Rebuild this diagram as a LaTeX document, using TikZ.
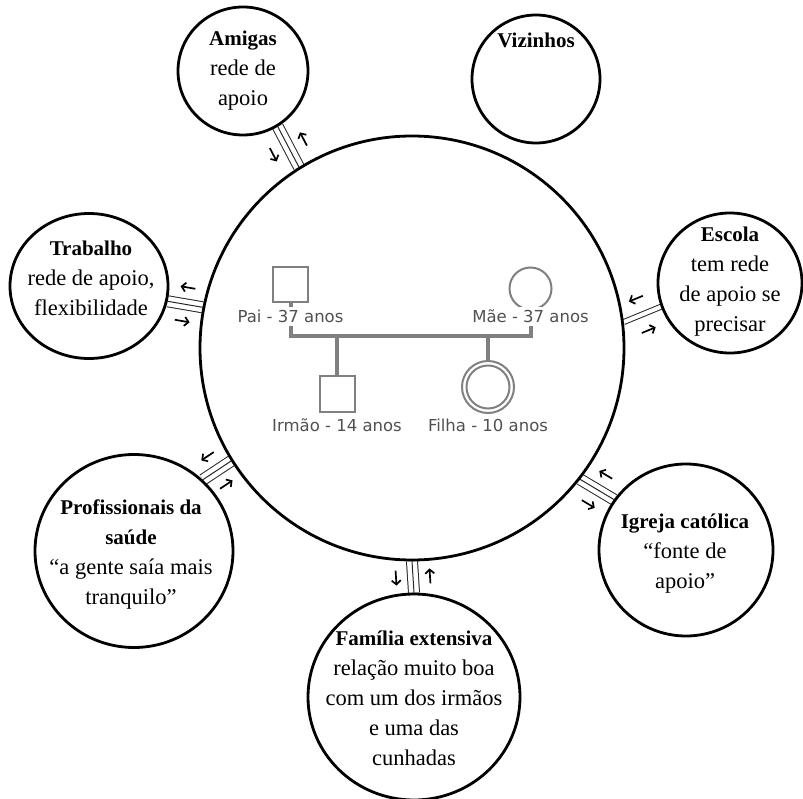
\documentclass[tikz,border=0pt]{standalone}
\usepackage{fontspec}
\setmainfont{Liberation Serif}
\newfontfamily\genofont{DejaVu Sans}
\usetikzlibrary{shapes.geometric, arrows.meta, calc, backgrounds}

\definecolor{linkgray}{RGB}{40,40,40}
\definecolor{genogray}{RGB}{128,128,128}
\definecolor{genotext}{RGB}{80,80,80}

\newcommand{\titulo}[1]{{\fontsize{21}{30}\selectfont\bfseries #1}}

\tikzset{
  ecocircle/.style 2 args={ellipse, draw=black, line width=2.8pt, inner sep=0pt,
    minimum width=#1, minimum height=#2},
  ecotext/.style={align=center, font=\fontsize{22.5}{30}\selectfont, text=black, inner sep=0pt},
  bigcircle/.style={circle, draw=black, line width=2.8pt, inner sep=0pt, minimum size=424pt},
  tripleline/.style={draw=linkgray, line width=1pt, double=white, double distance=10pt},
  doubleline/.style={draw=linkgray, line width=1pt, double=white, double distance=4pt},
  midline/.style={draw=linkgray, line width=1pt},
  flowarrow/.style={draw=black, line width=1.7pt, -{Straight Barb[length=4pt, width=9pt]}},
  genosq/.style={rectangle, draw=genogray, line width=2pt, minimum size=35pt, inner sep=0pt},
  genocirc/.style={circle, draw=genogray, line width=2pt, minimum size=42pt, inner sep=0pt},
  genoline/.style={draw=genogray, line width=4pt},
  genolabel/.style={font=\genofont\fontsize{16.5}{20}\selectfont, text=genotext, fill=white,
    inner xsep=1pt, inner ysep=3pt, anchor=base},
}

\begin{document}
\begin{tikzpicture}[x=1pt, y=-1pt]
\useasboundingbox (0,0) rectangle (803,799);

% circulo da familia nuclear
\node[bigcircle] (nucleo) at (412,348) {};

% rede externa
\node[ecocircle={130pt}{128pt}] (amigas) at (243,71) {};
\node[ecocircle={128pt}{128pt}] (vizinhos) at (536,79) {};
\node[ecocircle={158pt}{145pt}] (trabalho) at (89,286) {};
\node[ecocircle={144pt}{140pt}] (escola) at (730,283) {};
\node[ecocircle={198pt}{193pt}] (prof) at (134,551) {};
\node[ecocircle={174pt}{172pt}] (igreja) at (686,550) {};
\node[ecocircle={212pt}{206pt}] (familia) at (414,697) {};

\node[ecotext] (amigas-txt) at (243,71) {\titulo{Amigas}\\rede de\\apoio};
\node[ecotext, anchor=base] (vizinhos-txt) at (536,48) {\titulo{Vizinhos}};
\node[ecotext] (trabalho-txt) at (91,278) {\titulo{Trabalho}\\rede de apoio,\\flexibilidade};
\node[ecotext] (escola-txt) at (730,282) {\titulo{Escola}\\tem rede\\de apoio se\\precisar};
\node[ecotext] (prof-txt) at (131,554) {\titulo{Profissionais da}\\\titulo{saúde}\\“a gente saía mais\\tranquilo”};
\node[ecotext] (igreja-txt) at (685,554) {\titulo{Igreja católica}\\“fonte de\\apoio”};
\node[ecotext] (familia-txt) at (414,698) {\titulo{Família extensiva}\\relação muito boa\\com um dos irmãos\\e uma das\\cunhadas};

% ligacoes
\begin{scope}[on background layer]
  \foreach \s/\a/\b in {amigas/-58/122, trabalho/-11/169, prof/46/212, igreja/145/-38, familia/90/-90} {
    \draw[tripleline] (\s.\a) -- coordinate (\s-mid) (nucleo.\b);
    \draw[midline] (\s.\a) -- (nucleo.\b);
  }
  \draw[doubleline] (escola.199) -- coordinate (escola-mid) (nucleo.7);
\end{scope}

% fluxo de energia
\foreach \s/\a/\b in {amigas/-58/122, trabalho/-11/169, escola/199/7, prof/46/212, igreja/145/-38, familia/90/-90} {
  \draw[flowarrow] let \p1=($(nucleo.\b)-(\s.\a)$), \n1={atan2(\y1,\x1)} in
    ($(\s-mid)+(\n1-90:17pt)-(\n1:7.5pt)$) -- ($(\s-mid)+(\n1-90:17pt)+(\n1:7.5pt)$);
  \draw[flowarrow] let \p1=($(nucleo.\b)-(\s.\a)$), \n1={atan2(\y1,\x1)} in
    ($(\s-mid)+(\n1+90:17pt)+(\n1:7.5pt)$) -- ($(\s-mid)+(\n1+90:17pt)-(\n1:7.5pt)$);
}

% genograma
\node[genosq] (pai) at (290.5,285) {};
\node[genocirc] (mae) at (530.5,288.5) {};
\node[genosq, minimum size=35pt] (irmao) at (337,394) {};
\node[genocirc, minimum size=52pt] (filha) at (488,387) {};
\draw[genogray, line width=2pt] (filha.center) circle[radius=21.5pt];

\coordinate (uniao) at (412,336);
\draw[genoline] (pai) -- (pai |- uniao) -- (mae |- uniao) -- (mae);
\draw[genoline] (irmao) -- (irmao |- uniao);
\draw[genoline] (filha) -- (filha |- uniao);

\node[genolabel] (pai-txt) at (290.5,323) {Pai - 37 anos};
\node[genolabel] (mae-txt) at (530.5,323) {Mãe - 37 anos};
\node[genolabel] (irmao-txt) at (337,431) {Irmão - 14 anos};
\node[genolabel] (filha-txt) at (488,431) {Filha - 10 anos};

\end{tikzpicture}
\end{document}
